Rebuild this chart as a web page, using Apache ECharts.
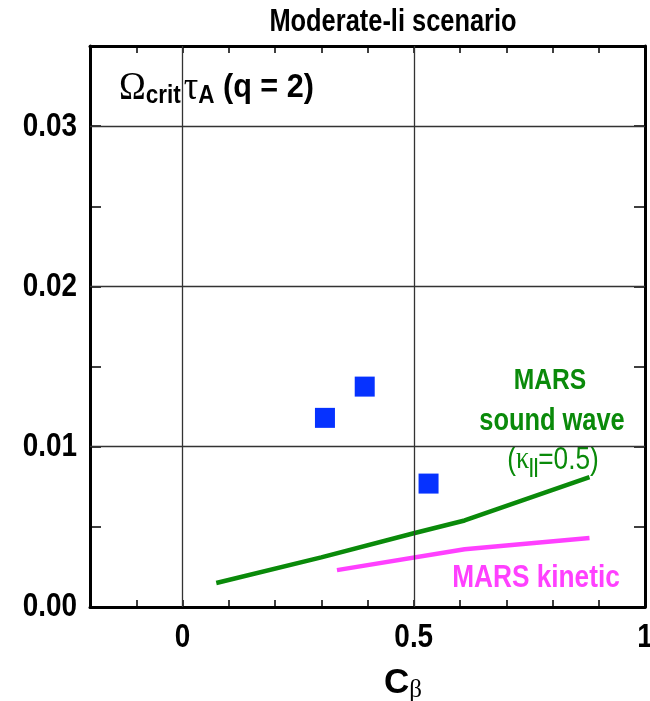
<!DOCTYPE html>
<html>
<head>
<meta charset="UTF-8">
<title>Moderate-li scenario</title>
<script src="https://cdn.jsdelivr.net/npm/echarts@6/dist/echarts.min.js"></script>
<style>
  html, body { margin: 0; padding: 0; background: #fff; width: 100%; height: 100%; overflow: hidden; }
  #main { width: 100vw; height: 100vh; }
</style>
</head>
<body>
<div id="main"></div>
<script>
// MARS data
var squares = [[0.308, 0.0118], [0.394, 0.01375], [0.532, 0.0077]];
var soundWave = [[0.073, 0.0015], [0.3, 0.0031], [0.5, 0.0046], [0.61, 0.0054], [0.88, 0.0081]];
var kinetic = [[0.334, 0.0023], [0.61, 0.0036], [0.88, 0.0043]];
var xGrid = [0, 0.5];
var yGrid = [0.01, 0.02, 0.03];
var xLabels = [0, 0.5, 1];
var xLabelText = ['0', '0.5', '1'];
var yLabels = [0, 0.01, 0.02, 0.03];
var yLabelText = ['0.00', '0.01', '0.02', '0.03'];

// no narrow helvetica here, so squeeze Liberation Sans instead
var FONT = "'Liberation Sans', Arial, sans-serif";
var SERIF = "'Liberation Serif', serif";
var NARROW = 0.82;
var GREEN = '#0a8a0a';
var PINK = '#ff40ff';

var chart = echarts.init(document.getElementById('main'));

var axisCommon = {
    axisLine: { show: true, onZero: false, lineStyle: { color: '#000', width: 3 } },
    axisLabel: { show: false },
    splitLine: { show: false }
};

function xAxisAt(pos) {
    return Object.assign({
        type: 'value', position: pos, min: -0.2, max: 1, interval: 0.1,
        axisTick: { inside: true, length: 7, lineStyle: { color: '#000', width: 1.5 } }
    }, axisCommon);
}
function yAxisAt(pos) {
    return Object.assign({
        type: 'value', position: pos, min: 0, max: 0.035, interval: 0.005,
        axisTick: { inside: true, length: 11, lineStyle: { color: '#000', width: 1.5 } }
    }, axisCommon);
}

var option = {
    animation: false,
    grid: { left: 90, right: 5, top: 46, bottom: 94 },
    xAxis: [xAxisAt('bottom'), xAxisAt('top')],
    yAxis: [yAxisAt('left'), yAxisAt('right')],
    series: [
        {
            type: 'line', data: [], silent: true,
            markLine: {
                symbol: 'none', silent: true, label: { show: false },
                lineStyle: { color: '#333', width: 1.3, type: 'solid' },
                data: xGrid.map(function (v) { return { xAxis: v }; })
                    .concat(yGrid.map(function (v) { return { yAxis: v }; }))
            }
        },
        {
            name: 'MARS sound wave', type: 'line', data: soundWave, symbol: 'none',
            lineStyle: { color: GREEN, width: 4.5 }
        },
        {
            name: 'MARS kinetic', type: 'line', data: kinetic, symbol: 'none',
            lineStyle: { color: PINK, width: 4.5 }
        },
        {
            name: 'Omega crit', type: 'scatter', data: squares, symbol: 'rect', symbolSize: 20,
            itemStyle: { color: '#0632ff', opacity: 1 }
        }
    ]
};

chart.setOption(option);

// texts (tick labels too, placed with the axis scales)
var texts = [];
var y0 = chart.convertToPixel({ yAxisIndex: 0 }, 0);
var xLeft = chart.convertToPixel({ xAxisIndex: 0 }, -0.2);
xLabels.forEach(function (v, i) {
    texts.push({
        type: 'text', x: chart.convertToPixel({ xAxisIndex: 0 }, v), y: y0 + 31, scaleX: NARROW,
        style: { text: xLabelText[i], font: 'bold 34px ' + FONT, fill: '#000', align: 'center', verticalAlign: 'middle' }
    });
});
yLabels.forEach(function (v, i) {
    texts.push({
        type: 'text', x: xLeft - 13, y: chart.convertToPixel({ yAxisIndex: 0 }, v), scaleX: NARROW,
        style: { text: yLabelText[i], font: 'bold 34px ' + FONT, fill: '#000', align: 'right', verticalAlign: 'middle' }
    });
});

texts.push(
    {
        // axis title C_beta
        type: 'text', x: 384, y: y0 + 76,
        style: {
            text: '{c|C}{b|β}', verticalAlign: 'middle',
            rich: {
                c: { fontSize: 35, fontFamily: FONT, fontWeight: 'bold', fill: '#000' },
                b: { fontSize: 25, fontFamily: SERIF, fill: '#000', padding: [14, 0, 0, 0] }
            }
        }
    },
    {
        type: 'text', x: 393, y: 22, scaleX: NARROW,
        style: { text: 'Moderate-li scenario', font: 'bold 31px ' + FONT, fill: '#000', align: 'center', verticalAlign: 'middle' }
    },
    {
        type: 'text', x: 119, y: 88, scaleX: 0.9,
        style: {
            text: '{g|Ω}{s|crit} {g|τ}{a|A}{o| (q = 2)}', verticalAlign: 'middle',
            rich: {
                g: { fontSize: 40, fontFamily: SERIF, fill: '#000' },
                s: { fontSize: 25, fontFamily: FONT, fontWeight: 'bold', fill: '#000', padding: [16, 0, 0, 0] },
                a: { fontSize: 25, fontFamily: FONT, fontWeight: 'bold', fill: '#000', padding: [16, 0, 0, 0] },
                o: { fontSize: 34, fontFamily: FONT, fontWeight: 'bold', fill: '#000' }
            }
        }
    },
    {
        type: 'text', x: 550, y: 381, scaleX: NARROW,
        style: { text: 'MARS', font: 'bold 30px ' + FONT, fill: GREEN, align: 'center', verticalAlign: 'middle' }
    },
    {
        type: 'text', x: 552, y: 421, scaleX: NARROW,
        style: { text: 'sound wave', font: 'bold 31px ' + FONT, fill: GREEN, align: 'center', verticalAlign: 'middle' }
    },
    {
        type: 'text', x: 553, y: 460, scaleX: NARROW,
        style: {
            text: '{p|(}{k|κ}{s|||}{p|=0.5)}', align: 'center', verticalAlign: 'middle',
            rich: {
                p: { fontSize: 32, fontFamily: FONT, fill: GREEN },
                k: { fontSize: 32, fontFamily: SERIF, fill: GREEN },
                s: { fontSize: 20, fontFamily: FONT, fontWeight: 'bold', fill: GREEN, padding: [14, 0, 0, 0] }
            }
        }
    },
    {
        type: 'text', x: 536, y: 578, scaleX: NARROW,
        style: { text: 'MARS kinetic', font: 'bold 32px ' + FONT, fill: PINK, align: 'center', verticalAlign: 'middle' }
    }
);

chart.setOption({ graphic: texts });
</script>
</body>
</html>
